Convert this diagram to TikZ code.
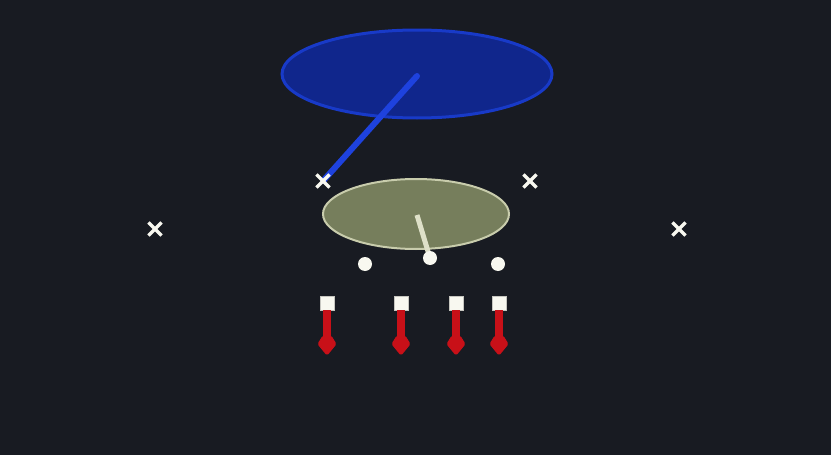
\documentclass[tikz,border=0pt]{standalone}
\usetikzlibrary{shapes.geometric,shapes.misc,arrows.meta}
\definecolor{bg}{RGB}{24,27,34}
\definecolor{blueFill}{RGB}{16,38,140}
\definecolor{blueEdge}{RGB}{24,58,200}
\definecolor{blueLine}{RGB}{30,66,222}
\definecolor{greenFill}{RGB}{118,126,92}
\definecolor{greenEdge}{RGB}{200,204,172}
\definecolor{paleLine}{RGB}{222,224,200}
\definecolor{mark}{RGB}{248,248,240}
\definecolor{thermRed}{RGB}{200,16,24}
\begin{document}
\begin{tikzpicture}[x=1pt,y=-1pt,
  crossmark/.style={cross out,draw=mark,line width=3.2pt,minimum size=10pt,inner sep=0pt},
  dotmark/.style={circle,fill=mark,minimum size=14pt,inner sep=0pt},
  capbox/.style={rectangle,fill=mark,draw=mark!80!black,line width=0.5pt,minimum size=14pt,inner sep=0pt},
  stem/.style={draw=thermRed,line width=8pt},
  bulb/.style={fill=thermRed,draw=thermRed,line width=1pt,line join=round,rounded corners=1.5pt}
]
\fill[bg] (0,0) rectangle (831,455);
\useasboundingbox (0,0) rectangle (831,455);
% ellipses
\node[ellipse,fill=blueFill,draw=blueEdge,line width=3pt,minimum width=270pt,minimum height=88pt,inner sep=0pt] (blue) at (417,74) {};
\node[ellipse,fill=greenFill,draw=greenEdge,line width=2pt,minimum width=186pt,minimum height=70pt,inner sep=0pt] (green) at (416,214) {};
% connector end points
\coordinate (bc) at (417,76);
\coordinate (gc) at (417,215);
\coordinate (c1p) at (323,181);
\draw[blueLine,line width=6pt,line cap=round] (bc) -- (c1p);
% crosses
\node[crossmark] (c1) at (c1p) {};
\node[crossmark] (c2) at (530,181) {};
\node[crossmark] (c3) at (155,229) {};
\node[crossmark] (c4) at (679,229) {};
% dots
\node[dotmark] (d1) at (365,264) {};
\node[dotmark] (d3) at (498,264) {};
\coordinate (d2p) at (430,258);
\draw[paleLine,line width=5pt] (gc) -- (d2p);
\node[dotmark] (d2) at (d2p) {};
% thermometers
\foreach \x/\n in {327/t1,401/t2,456/t3,499/t4}{
  \node[capbox] (\n) at (\x,303) {};
  \coordinate (\n e) at (\x,340);
  \draw[stem] (\n.south) -- (\n e);
  \path[bulb] (\x-4,336) -- (\x-9,344) -- (\x,355) -- (\x+9,344) -- (\x+4,336) -- cycle;
}
\end{tikzpicture}
\end{document}
